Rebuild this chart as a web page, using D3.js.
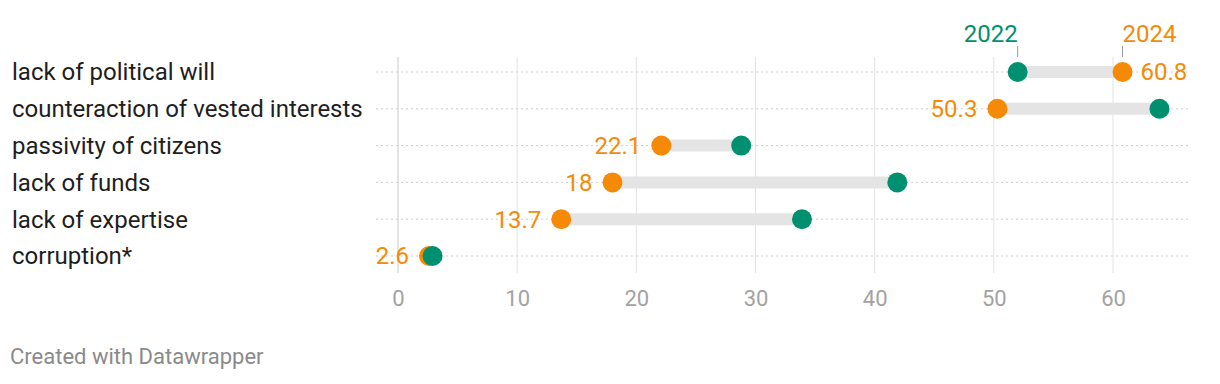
<!DOCTYPE html>
<html><head><meta charset="utf-8">
<script src="https://cdn.jsdelivr.net/npm/d3@7"></script>
<style>
body{margin:0;background:#fff;font-family:Roboto,"Noto Sans",sans-serif;}
svg{display:block}
</style></head>
<body>
<svg id="c" width="1220" height="384"></svg>
<script>
const categories = ["lack of political will","counteraction of vested interests","passivity of citizens","lack of funds","lack of expertise","corruption*"];
const values2022 = [52.0, 63.9, 28.8, 41.9, 33.9, 2.9];
const values2024 = [60.8, 50.3, 22.1, 18, 13.7, 2.6];
const tickValues = [0,10,20,30,40,50,60];
const seriesNames = ["2022","2024"];
const colors = {"2022":"#00906f","2024":"#f68a06"};

const svg = d3.select("#c");
const x = d3.scaleLinear().domain([0,60]).range([398,1113]);
const y = d3.scalePoint().domain(categories).range([72,256]);

// vertical grid
svg.append("g").selectAll("line").data(tickValues).join("line")
  .attr("x1",d=>x(d)).attr("x2",d=>x(d)).attr("y1",57).attr("y2",273)
  .attr("stroke",d=>d===0?"#c8c8c8":"#e3e3e3").attr("stroke-width",1);

// dotted row lines
svg.append("g").selectAll("line").data(categories).join("line")
  .attr("x1",376).attr("x2",1190).attr("y1",d=>y(d)).attr("y2",d=>y(d))
  .attr("stroke","#cfcfcf").attr("stroke-width",1).attr("stroke-dasharray","2,3");

// axis tick labels
const ax = d3.axisBottom(x).tickValues(tickValues).tickSize(0).tickPadding(0);
const axg = svg.append("g").attr("transform","translate(0,306)").call(ax);
axg.select(".domain").remove();
axg.selectAll("text").attr("dy","0").attr("y",0).attr("fill","#a3a3a3")
  .style("font-family","Roboto").style("font-size","22px");

// range bars
svg.append("g").selectAll("line").data(categories).join("line")
  .attr("x1",(d,i)=>x(values2022[i])).attr("x2",(d,i)=>x(values2024[i]))
  .attr("y1",d=>y(d)).attr("y2",d=>y(d))
  .attr("stroke","#e4e4e4").attr("stroke-width",12);

// dots (2024 under 2022)
svg.append("g").selectAll("circle").data(categories).join("circle")
  .attr("cx",(d,i)=>x(values2024[i])).attr("cy",d=>y(d)).attr("r",10).attr("fill",colors["2024"]);
svg.append("g").selectAll("circle").data(categories).join("circle")
  .attr("cx",(d,i)=>x(values2022[i])).attr("cy",d=>y(d)).attr("r",10).attr("fill",colors["2022"]);

// value labels for 2024
svg.append("g").selectAll("text").data(categories).join("text")
  .attr("x",(d,i)=>{const r = values2024[i]>values2022[i]; return x(values2024[i]) + (r?18:-20);})
  .attr("y",d=>y(d)).attr("dy","0.35em")
  .attr("text-anchor",(d,i)=>values2024[i]>values2022[i]?"start":"end")
  .attr("fill",colors["2024"]).style("font-size","24px")
  .text((d,i)=>String(values2024[i]));

// category labels
svg.append("g").selectAll("text").data(categories).join("text")
  .attr("x",12).attr("y",d=>y(d)).attr("dy","0.35em")
  .attr("fill","#1e1e1e").style("font-size","24px").text(d=>d);

// series header labels
const hdr = [values2022[0], values2024[0]];
seriesNames.forEach((s,k)=>{
  const cx = x(hdr[k]);
  svg.append("text").attr("x",cx).attr("y",42).attr("text-anchor",k===0?"end":"start")
    .attr("fill",colors[s]).style("font-size","24px").text(s);
  svg.append("line").attr("x1",cx).attr("x2",cx).attr("y1",46).attr("y2",57)
    .attr("stroke","#999").attr("stroke-width",1);
});

// footer
svg.append("text").attr("x",10).attr("y",364).attr("fill","#8a8a8a")
  .style("font-size","22px").text("Created with Datawrapper");
</script>
</body></html>
